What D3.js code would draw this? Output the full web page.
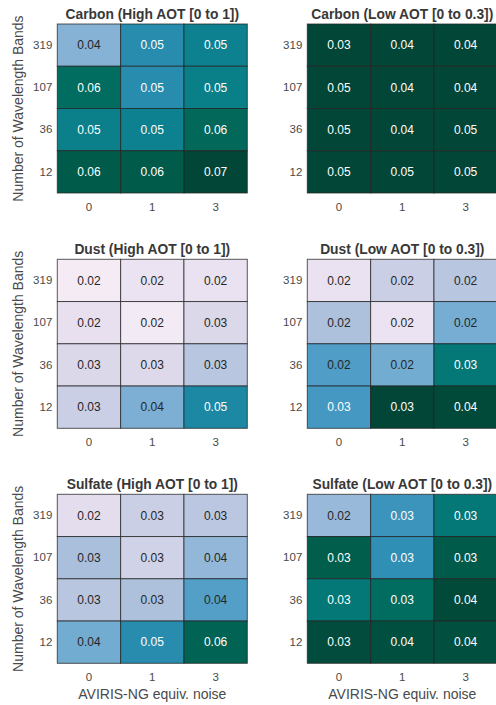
<!DOCTYPE html>
<html>
<head>
<meta charset="utf-8">
<script src="https://cdn.jsdelivr.net/npm/d3@7"></script>
<style>
  html, body { margin: 0; padding: 0; background: #fff; }
  svg { display: block; font-family: "Liberation Sans", Arial, sans-serif; }
</style>
</head>
<body>
<svg id="chart" width="496" height="705"></svg>
<script>
// ---------------- data ----------------
const noiseLevels = ["0", "1", "3"];
const bandCounts = ["319", "107", "36", "12"];

const panelTitles = [
  "Carbon (High AOT [0 to 1])",
  "Carbon (Low AOT [0 to 0.3])",
  "Dust (High AOT [0 to 1])",
  "Dust (Low AOT [0 to 0.3])",
  "Sulfate (High AOT [0 to 1])",
  "Sulfate (Low AOT [0 to 0.3])"
];

// displayed annotations, rows = bands (319,107,36,12), cols = noise (0,1,3)
const carbonHighLabels = [["0.04","0.05","0.05"],["0.06","0.05","0.05"],["0.05","0.05","0.06"],["0.06","0.06","0.07"]];
const carbonLowLabels  = [["0.03","0.04","0.04"],["0.05","0.04","0.04"],["0.05","0.04","0.05"],["0.05","0.05","0.05"]];
const dustHighLabels   = [["0.02","0.02","0.02"],["0.02","0.02","0.03"],["0.03","0.03","0.03"],["0.03","0.04","0.05"]];
const dustLowLabels    = [["0.02","0.02","0.02"],["0.02","0.02","0.02"],["0.02","0.02","0.03"],["0.03","0.03","0.04"]];
const sulfateHighLabels= [["0.02","0.03","0.03"],["0.03","0.03","0.04"],["0.03","0.03","0.04"],["0.04","0.05","0.06"]];
const sulfateLowLabels = [["0.02","0.03","0.03"],["0.03","0.03","0.03"],["0.03","0.03","0.04"],["0.03","0.04","0.04"]];

// colour intensity (0..1 on the PuBuGn colormap) read from each cell's shade
const carbonHighShade = [[0.44,0.66,0.74],[0.86,0.66,0.76],[0.75,0.74,0.88],[0.93,0.93,1.00]];
const carbonLowShade  = [[1.00,1.00,1.00],[1.00,1.00,1.00],[1.00,1.00,1.00],[1.00,1.00,1.00]];
const dustHighShade   = [[0.07,0.12,0.13],[0.14,0.08,0.20],[0.20,0.19,0.32],[0.26,0.46,0.69]];
const dustLowShade    = [[0.13,0.26,0.32],[0.35,0.12,0.47],[0.56,0.48,0.80],[0.59,1.00,0.99]];
const sulfateHighShade= [[0.16,0.26,0.31],[0.36,0.24,0.41],[0.32,0.35,0.55],[0.48,0.66,0.90]];
const sulfateLowShade = [[0.40,0.61,0.80],[0.92,0.64,0.93],[0.80,0.86,0.99],[0.98,0.97,0.97]];

const panelLabels = [carbonHighLabels, carbonLowLabels, dustHighLabels, dustLowLabels, sulfateHighLabels, sulfateLowLabels];
const panelShades = [carbonHighShade, carbonLowShade, dustHighShade, dustLowShade, sulfateHighShade, sulfateLowShade];

const xAxisTitle = "AVIRIS-NG equiv. noise";
const yAxisTitle = "Number of Wavelength Bands";

// ---------------- layout ----------------
const svg = d3.select("#chart");
const panelW = 190, panelH = 169;
const colX = [57.3, 307.3];
const rowY = [24, 259.3, 494.3];

const color = d3.scaleSequential(d3.interpolatePuBuGn).domain([0, 1]);

const x = d3.scaleBand().domain(noiseLevels).range([0, panelW]);
const y = d3.scaleBand().domain(bandCounts).range([0, panelH]);

panelTitles.forEach((title, i) => {
  const c = i % 2, r = Math.floor(i / 2);
  const g = svg.append("g").attr("transform", `translate(${colX[c]},${rowY[r]})`);
  const labels = panelLabels[i], shades = panelShades[i];

  const cells = [];
  bandCounts.forEach((b, ri) => noiseLevels.forEach((n, ci) => {
    cells.push({ band: b, noise: n, label: labels[ri][ci], shade: shades[ri][ci] });
  }));

  g.selectAll("rect.cell").data(cells).join("rect")
    .attr("class", "cell")
    .attr("x", d => x(d.noise))
    .attr("y", d => y(d.band))
    .attr("width", x.bandwidth())
    .attr("height", y.bandwidth())
    .attr("fill", d => color(d.shade))
    .attr("stroke", "rgba(35,35,35,0.75)")
    .attr("stroke-width", 1);

  g.selectAll("text.ann").data(cells).join("text")
    .attr("class", "ann")
    .attr("x", d => x(d.noise) + x.bandwidth() / 2)
    .attr("y", d => y(d.band) + y.bandwidth() / 2)
    .attr("dy", "0.35em")
    .attr("text-anchor", "middle")
    .attr("font-size", 12)
    .attr("fill", d => d.shade < 0.575 ? "#262626" : "#ffffff")
    .text(d => d.label);

  // title
  g.append("text")
    .attr("x", panelW / 2)
    .attr("y", -5)
    .attr("text-anchor", "middle")
    .attr("font-size", 13.8)
    .attr("font-weight", "bold")
    .attr("fill", "#383838")
    .text(title);

  // axes
  const ax = g.append("g").attr("transform", `translate(0,${panelH})`)
    .call(d3.axisBottom(x).tickSize(0).tickPadding(10));
  const ay = g.append("g").call(d3.axisLeft(y).tickSize(0).tickPadding(5));
  [ax, ay].forEach(a => {
    a.select(".domain").remove();
    a.selectAll("text").attr("font-size", 11.5).attr("fill", "#4a4a4a")
      .attr("font-family", "\"Liberation Sans\", Arial, sans-serif");
  });

  if (c === 0) {
    g.append("text")
      .attr("transform", `translate(${18 - colX[0]},${panelH / 2}) rotate(-90)`)
      .attr("text-anchor", "middle")
      .attr("dy", "0.35em")
      .attr("font-size", 14)
      .attr("fill", "#4a4a4a")
      .text(yAxisTitle);
  }
  if (r === 2) {
    g.append("text")
      .attr("x", panelW / 2)
      .attr("y", panelH + 36)
      .attr("text-anchor", "middle")
      .attr("font-size", 14)
      .attr("fill", "#4a4a4a")
      .text(xAxisTitle);
  }
});
</script>
</body>
</html>
